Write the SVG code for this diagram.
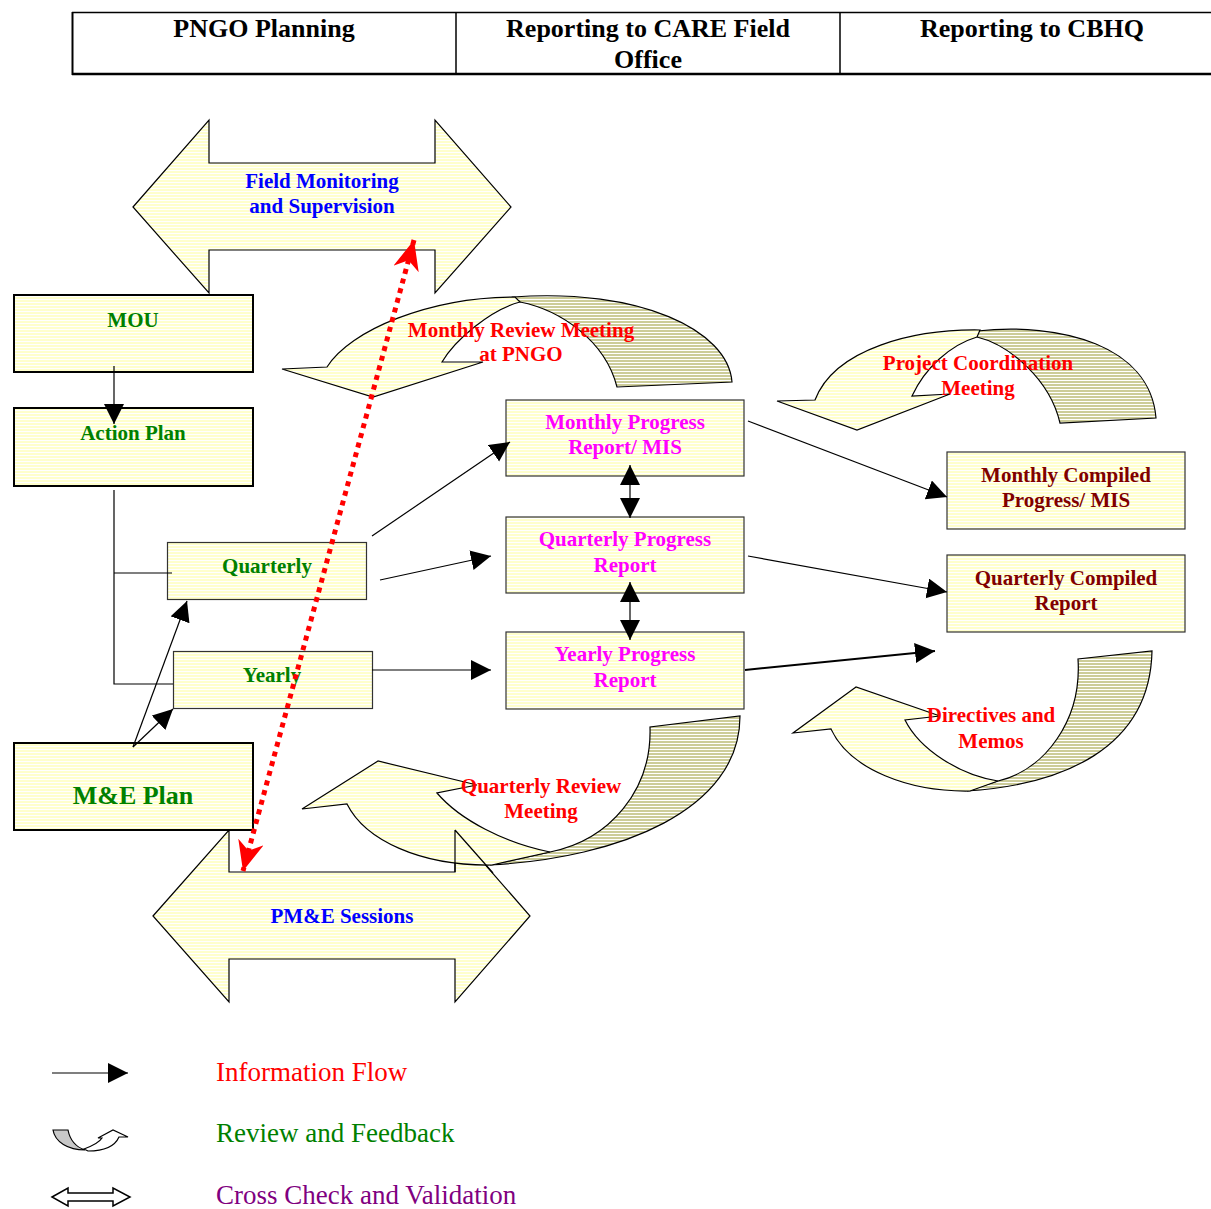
<svg xmlns="http://www.w3.org/2000/svg" width="1211" height="1209" viewBox="0 0 1211 1209">
<style>
.t{font-family:"Liberation Serif","Times New Roman",serif;font-weight:bold;text-anchor:middle}
.h{font-size:26px;fill:#000}
.g{font-size:21px;fill:#008000}
.b{font-size:21px;fill:#0000FF}
.m{font-size:21px;fill:#FF00FF}
.r{font-size:21px;fill:#FF0000}
.d{font-size:21px;fill:#800000}
.lg{font-family:"Liberation Serif","Times New Roman",serif;font-size:27px}
.sh{fill:url(#py);stroke:#000;stroke-width:1.2}
.dk{fill:url(#pd);stroke:#000;stroke-width:1.2}
.bx{fill:url(#py);stroke:#000;stroke-width:2}
.bt{fill:url(#py);stroke:#333;stroke-width:1.2}
.c{stroke:#000;stroke-width:1.2;fill:none}
</style>
<defs>
<pattern id="py" width="6" height="3" patternUnits="userSpaceOnUse"><rect width="6" height="3" fill="#FFFFCC"/><rect y="2" width="6" height="1" fill="#FFFFFF"/></pattern>
<pattern id="pd" width="6" height="3" patternUnits="userSpaceOnUse"><rect width="6" height="3" fill="#CCCC99"/><rect y="2" width="6" height="1" fill="#FFFFFF"/></pattern>
<marker id="ah" markerUnits="userSpaceOnUse" markerWidth="22" markerHeight="22" refX="20" refY="10" orient="auto-start-reverse"><path d="M0,0 L20,10 L0,20 Z" fill="#000"/></marker>
<marker id="rh" markerUnits="userSpaceOnUse" markerWidth="32" markerHeight="28" refX="30" refY="13" orient="auto-start-reverse"><path d="M0,0 L30,13 L0,26 L9,13 Z" fill="#FF0000"/></marker>
</defs>
<rect width="1211" height="1209" fill="#FFFFFF"/>

<g id="header">
<line x1="72" y1="12.5" x2="1211" y2="12.5" stroke="#000" stroke-width="1.5"/>
<line x1="72" y1="74" x2="1211" y2="74" stroke="#000" stroke-width="2.5"/>
<line x1="72.5" y1="12" x2="72.5" y2="75" stroke="#000" stroke-width="2"/>
<line x1="456" y1="12" x2="456" y2="75" stroke="#000" stroke-width="1.5"/>
<line x1="840" y1="12" x2="840" y2="75" stroke="#000" stroke-width="1.5"/>
<text class="t h" x="264" y="37">PNGO Planning</text>
<text class="t h" x="648" y="37">Reporting to CARE Field</text>
<text class="t h" x="648" y="68">Office</text>
<text class="t h" x="1032" y="37">Reporting to CBHQ</text>
</g>

<g id="field-monitoring">
<path class="sh" d="M133,207 L209,120 L209,163 L435,163 L435,120 L511,207 L435,293 L435,250 L209,250 L209,293 Z"/>
<text class="t b" x="322" y="188">Field Monitoring</text>
<text class="t b" x="322" y="213">and Supervision</text>
</g>

<g id="pme-sessions">
<path class="sh" d="M153,916 L229,830 L229,872 L455,872 L455,830 L530,916 L455,1002 L455,959 L229,959 L229,1002 Z"/>
<text class="t b" x="342" y="923">PM&amp;E Sessions</text>
</g>

<g id="monthly-review">
<path class="dk" d="M513,297 C640,288 728,330 732,382 L617,387 C605,340 560,310 520,302 Z"/>
<path class="sh" d="M282,369 L327,367 C350,330 430,297 515,297 L520,302 C490,310 455,340 442,362 L483,362 L373,397 Z"/>
<text class="t r" x="521" y="337">Monthly Review Meeting</text>
<text class="t r" x="521" y="361">at PNGO</text>
</g>

<g id="project-coordination">
<path class="dk" d="M977,331 C1060,322 1150,345 1156,418 L1060,423 C1050,380 1010,345 977,337 Z"/>
<path class="sh" d="M777,401 L815,400 C835,348 915,329 980,330 L977,337 C950,345 925,368 912,396 L950,394 L857,430 Z"/>
<text class="t r" x="978" y="370">Project Coordination</text>
<text class="t r" x="978" y="395">Meeting</text>
</g>

<g id="directives">
<path class="dk" d="M967,791 C1060,785 1150,750 1152,651 L1078,659 C1082,720 1045,770 998,781 Z"/>
<path class="sh" d="M856,687 L793,733 L831,729 C850,770 910,792 970,791 L998,781 C960,775 920,750 905,720 L940,716 Z"/>
<text class="t r" x="991" y="722">Directives and</text>
<text class="t r" x="991" y="748">Memos</text>
</g>

<g id="quarterly-review">
<path class="dk" d="M490,865 C620,858 740,810 740,716 L650,727 C652,790 610,840 550,852 Z"/>
<path class="sh" d="M378,761 L302,809 L347,804 C365,840 420,866 492,865 L550,852 C505,843 460,820 437,793 L477,785 Z"/>
<path d="M455,830 L455,872 M455,830 L493,873" stroke="#000" stroke-width="1.2" fill="none"/>
<text class="t r" x="541" y="793">Quarterly Review</text>
<text class="t r" x="541" y="818">Meeting</text>
</g>

<g id="mou">
<rect class="bx" x="14" y="295" width="239" height="77"/>
<text class="t g" x="133" y="327">MOU</text>
</g>
<g id="action-plan">
<rect class="bx" x="14" y="408" width="239" height="78"/>
<text class="t g" x="133" y="440">Action Plan</text>
</g>
<g id="quarterly">
<rect class="bt" x="167.5" y="542.5" width="199" height="57"/>
<text class="t g" x="267" y="573">Quarterly</text>
</g>
<g id="yearly">
<rect class="bt" x="173.5" y="651.5" width="199" height="57"/>
<text class="t g" x="272" y="682">Yearly</text>
</g>
<g id="me-plan">
<rect class="bx" x="14" y="743" width="239" height="87"/>
<text class="t" style="font-size:26px;fill:#008000" x="133" y="804">M&amp;E Plan</text>
</g>
<g id="monthly-progress">
<rect class="bt" x="506" y="400" width="238" height="76"/>
<text class="t m" x="625" y="429">Monthly Progress</text>
<text class="t m" x="625" y="454">Report/ MIS</text>
</g>
<g id="quarterly-progress">
<rect class="bt" x="506" y="517" width="238" height="76"/>
<text class="t m" x="625" y="546">Quarterly Progress</text>
<text class="t m" x="625" y="572">Report</text>
</g>
<g id="yearly-progress">
<rect class="bt" x="506" y="632" width="238" height="77"/>
<text class="t m" x="625" y="661">Yearly Progress</text>
<text class="t m" x="625" y="687">Report</text>
</g>
<g id="monthly-compiled">
<rect class="bt" x="947" y="452" width="238" height="77"/>
<text class="t d" x="1066" y="482">Monthly Compiled</text>
<text class="t d" x="1066" y="507">Progress/ MIS</text>
</g>
<g id="quarterly-compiled">
<rect class="bt" x="947" y="555" width="238" height="77"/>
<text class="t d" x="1066" y="585">Quarterly Compiled</text>
<text class="t d" x="1066" y="610">Report</text>
</g>

<g id="connectors">
<line class="c" x1="114" y1="366" x2="114" y2="424" marker-end="url(#ah)"/>
<path class="c" d="M114,490 L114,684 L173,684 M114,573 L172,573"/>
<line class="c" x1="133" y1="747" x2="187" y2="601" marker-end="url(#ah)"/>
<line class="c" x1="133" y1="747" x2="173" y2="709" marker-end="url(#ah)"/>
<line class="c" x1="372" y1="536" x2="510" y2="442" marker-end="url(#ah)"/>
<line class="c" x1="380" y1="580" x2="491" y2="556" marker-end="url(#ah)"/>
<line class="c" x1="372" y1="670" x2="491" y2="670" marker-end="url(#ah)"/>
<line class="c" x1="748" y1="421" x2="947" y2="497" marker-end="url(#ah)"/>
<line class="c" x1="748" y1="556" x2="947" y2="592" marker-end="url(#ah)"/>
<line x1="745" y1="670" x2="935" y2="651" stroke="#000" stroke-width="2" marker-end="url(#ah)"/>
<line class="c" x1="630" y1="465" x2="630" y2="518" marker-start="url(#ah)" marker-end="url(#ah)"/>
<line class="c" x1="630" y1="582" x2="630" y2="640" marker-start="url(#ah)" marker-end="url(#ah)"/>
<line x1="414" y1="240" x2="243" y2="871" stroke="#FF0000" stroke-width="5" stroke-dasharray="5 5" marker-start="url(#rh)" marker-end="url(#rh)"/>
</g>

<g id="legend">
<line class="c" x1="52" y1="1073" x2="128" y2="1073" stroke-width="1.5" marker-end="url(#ah)"/>
<path d="M53,1130 L68,1130 C70,1140 76,1147 85,1150 C68,1150 55,1142 53,1130 Z" fill="#C8C8C8" stroke="#000" stroke-width="1.2"/>
<path d="M84,1149 C92,1146 99,1143 102,1138 L98,1138 L113,1130 L128,1137 L119,1137 C115,1146 104,1151 88,1151 Z" fill="#FFFFFF" stroke="#000" stroke-width="1.2"/>
<path d="M52,1197 L68,1188 L68,1193 L113,1193 L113,1188 L130,1197 L113,1206 L113,1201 L68,1201 L68,1206 Z" fill="#FFFFFF" stroke="#000" stroke-width="1.5"/>
<text class="lg" x="216" y="1081" fill="#FF0000">Information Flow</text>
<text class="lg" x="216" y="1142" fill="#008000">Review and Feedback</text>
<text class="lg" x="216" y="1204" fill="#800080">Cross Check and Validation</text>
</g>
</svg>
